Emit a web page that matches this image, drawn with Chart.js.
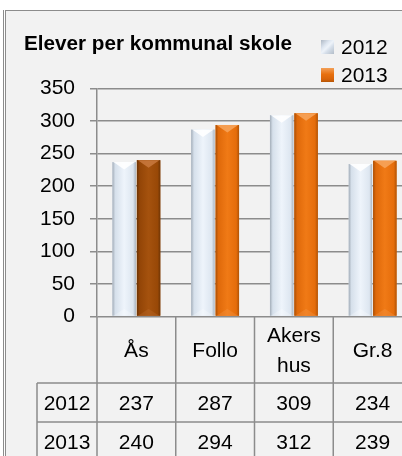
<!DOCTYPE html>
<html>
<head>
<meta charset="utf-8">
<script src="https://cdn.jsdelivr.net/npm/chart.js@4.4.1/dist/chart.umd.min.js"></script>
<style>
    body { margin: 0; width: 402px; height: 456px; overflow: hidden; background: #fff; position: relative; font-family: "Liberation Sans", Arial, sans-serif; }
    #frame { position: absolute; left: 5px; top: 10px; width: 430px; height: 470px; background: #f2f2f2; border-top: 1px solid #8c8c8c; border-left: 1px solid #8c8c8c; }
    #outerLine { position: absolute; left: 3px; top: 10px; width: 1px; height: 470px; background: #8c8c8c; }
    canvas { position: absolute; left: 0; top: 0; }
    #title { position: absolute; left: 24px; top: 32.5px; font-size: 20.7px; line-height: 20.7px; font-weight: bold; color: #000; white-space: nowrap; }
    .leg { position: absolute; left: 321px; font-size: 21px; line-height: 21px; color: #000; }
    .leg span.box { position: absolute; left: 0; width: 13px; height: 14px; }
    .leg span.txt { position: absolute; left: 20px; top: 0; }
    #leg2012 { top: 36px; }
    #leg2013 { top: 64px; }
    #leg2012 .box { top: 4px; background: linear-gradient(135deg, #aeb8c4, #dfe7f1 35%, #eef3f9 50%, #d6dfea 65%, #b3bdc9); }
    #leg2013 .box { top: 4px; background: linear-gradient(180deg, #f3a058, #e8700e 45%, #d8640a 80%, #b55606); }
</style>
</head>
<body>
<div id="frame"></div>
<div id="outerLine"></div>
<canvas id="chart" width="412" height="456"></canvas>
<div id="title">Elever per kommunal skole</div>
<div class="leg" id="leg2012"><span class="box"></span><span class="txt">2012</span></div>
<div class="leg" id="leg2013"><span class="box"></span><span class="txt">2013</span></div>
<script>
// data
const CATEGORIES = ['Ås', 'Follo', ['Akers', 'hus'], 'Gr.8'];
const SERIES_NAMES = ['2012', '2013'];
const VALUES_2012 = [237, 287, 309, 234];
const VALUES_2013 = [240, 294, 312, 239];
const Y_MIN = 0;
const Y_MAX = 350;
const Y_STEP = 50;

const FONT = '"Liberation Sans", Arial, sans-serif';
const GRID = '#8c8c8c';

// base colour -> [edge, inner, centre, inner, edge, top bevel]
const SHADES = {
    '#dce6f2': ['#a3adb8', '#d6e0eb', '#eef4fb', '#dde6f0', '#aab4bf', '#ffffff'],
    '#e46c0a': ['#a94f06', '#df690a', '#f07a16', '#e56d0b', '#b05306', '#f6a35a'],
    '#984807': ['#6e3404', '#934507', '#a5520e', '#984807', '#713605', '#c7773c']
};

// bar shading - START
const barShade = {
    id: 'barShade',
    afterDatasetsDraw(chart) {
        const ctx = chart.ctx;
        chart.data.datasets.forEach((ds, di) => {
            const meta = chart.getDatasetMeta(di);
            meta.data.forEach((bar, j) => {
                const p = bar.getProps(['x', 'y', 'base', 'width'], true);
                const s = SHADES[ds.backgroundColor[j]];
                const l = p.x - p.width / 2;
                const r = p.x + p.width / 2;
                let g = ctx.createLinearGradient(l, 0, r, 0);
                g.addColorStop(0, s[0]);
                g.addColorStop(0.12, s[1]);
                g.addColorStop(0.5, s[2]);
                g.addColorStop(0.88, s[3]);
                g.addColorStop(1, s[4]);
                ctx.save();
                ctx.fillStyle = g;
                ctx.fillRect(l, p.y, p.width, p.base - p.y);
                // top bevel
                ctx.fillStyle = s[5];
                ctx.globalAlpha = 0.9;
                ctx.beginPath();
                ctx.moveTo(l + 1, p.y);
                ctx.lineTo(r - 1, p.y);
                ctx.lineTo(p.x, p.y + p.width * 0.32);
                ctx.closePath();
                ctx.fill();
                // bottom bevel
                ctx.globalAlpha = 0.25;
                ctx.beginPath();
                ctx.moveTo(l + 1, p.base);
                ctx.lineTo(r - 1, p.base);
                ctx.lineTo(p.x, p.base - p.width * 0.3);
                ctx.closePath();
                ctx.fill();
                ctx.restore();
            });
        });
    }
};
// bar shading - END

// data table - START
const dataTable = {
    id: 'dataTable',
    afterDraw(chart) {
        const ctx = chart.ctx;
        const area = chart.chartArea;
        const x = chart.scales.x;
        const n = CATEGORIES.length;
        const catW = (x.right - x.left) / n;
        const top = area.bottom;
        const h1 = top + 66.5;
        const h2 = h1 + 39;
        const h3 = h2 + 39;
        const left = x.left - 60;
        ctx.save();
        ctx.strokeStyle = GRID;
        ctx.lineWidth = 1.5;
        ctx.beginPath();
        for (let i = 0; i <= n; i++) {
            let vx = x.left + i * catW;
            ctx.moveTo(vx, top);
            ctx.lineTo(vx, h3);
        }
        ctx.moveTo(left, h1);
        ctx.lineTo(left, h3);
        [h1, h2, h3].forEach((hy) => {
            ctx.moveTo(left, hy);
            ctx.lineTo(x.right, hy);
        });
        ctx.stroke();

        ctx.fillStyle = '#000';
        ctx.font = '21px ' + FONT;
        ctx.textAlign = 'center';
        ctx.textBaseline = 'alphabetic';
        const hc = (top + h1) / 2;
        CATEGORIES.forEach((c, i) => {
            let cx = x.getPixelForValue(i);
            if (Array.isArray(c)) {
                ctx.fillText(c[0], cx, hc - 15 + 7.5);
                ctx.fillText(c[1], cx, hc + 15 + 7.5);
            } else {
                ctx.fillText(c, cx, hc + 7.5);
            }
        });
        const rows = [VALUES_2012, VALUES_2013];
        rows.forEach((vals, r) => {
            let cy = (r === 0 ? (h1 + h2) / 2 : (h2 + h3) / 2) + 7;
            ctx.fillText(SERIES_NAMES[r], (left + x.left) / 2, cy);
            vals.forEach((v, i) => {
                ctx.fillText(String(v), x.getPixelForValue(i), cy);
            });
        });
        ctx.restore();
    }
};
// data table - END

let ctx = document.getElementById('chart');
let data = {
    labels: CATEGORIES,
    datasets: [{
        label: SERIES_NAMES[0],
        data: VALUES_2012,
        backgroundColor: VALUES_2012.map(() => '#dce6f2'),
        borderWidth: 0
    }, {
        label: SERIES_NAMES[1],
        data: VALUES_2013,
        backgroundColor: ['#984807', '#e46c0a', '#e46c0a', '#e46c0a'],
        borderWidth: 0
    }]
};
let config = {
    type: 'bar',
    data: data,
    plugins: [barShade, dataTable],
    options: {
        responsive: false,
        animation: false,
        devicePixelRatio: 1,
        categoryPercentage: 0.62,
        barPercentage: 0.96,
        layout: {
            padding: { top: 88.5, left: 0, right: 0, bottom: 139.5 }
        },
        plugins: {
            legend: { display: false },
            title: { display: false },
            tooltip: { enabled: false }
        },
        scales: {
            x: {
                ticks: { display: false },
                grid: { display: false },
                border: { display: false },
                afterFit: (scale) => { scale.height = 0; }
            },
            y: {
                min: Y_MIN,
                max: Y_MAX,
                ticks: {
                    stepSize: Y_STEP,
                    color: '#000',
                    padding: 15,
                    font: { family: FONT, size: 21 }
                },
                grid: { color: GRID, lineWidth: 1.5, tickLength: 7 },
                border: { display: true, color: GRID, width: 1.5 },
                afterFit: (scale) => { scale.width = 97; }
            }
        }
    }
};
let eleverChart = new Chart(ctx, config);
</script>
</body>
</html>
